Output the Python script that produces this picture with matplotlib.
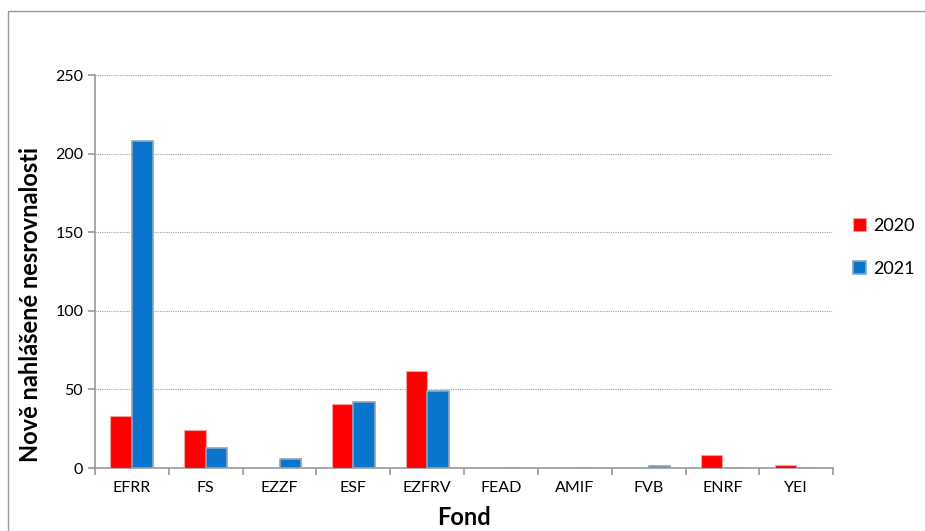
import numpy as np
import matplotlib.pyplot as plt
from matplotlib.patches import Rectangle

plt.rcParams['font.family'] = ['Lato', 'DejaVu Sans']

funds = ["EFRR", "FS", "EZZF", "ESF", "EZFRV", "FEAD", "AMIF", "FVB", "ENRF", "YEI"]
y2020 = [33, 24, 0, 41, 62, 0, 0, 0, 8, 2]
y2021 = [208, 13, 6, 42, 49, 0, 0, 1, 0, 0]

fig = plt.figure(figsize=(9.25, 5.31), dpi=100)
ax = fig.add_axes([0.1027, 0.1186, 0.798, 0.740])

x = np.arange(len(funds))
w = 0.29
ax.bar(x - w / 2, y2020, w, color="#FF0000", edgecolor="#F5A0A0", linewidth=0.8, label="2020", zorder=3)
ax.bar(x + w / 2, y2021, w, color="#0A75CC", edgecolor="#8FA3BC", linewidth=1.2, label="2021", zorder=3)

ax.set_xlim(-0.5, len(funds) - 0.5)
ax.set_ylim(0, 250)
ax.set_yticks(range(0, 251, 50))
ax.set_xticks(x)
ax.set_xticklabels(funds)
ax.set_xticks(np.arange(-0.5, len(funds)), minor=True)
ax.tick_params(axis="x", which="major", length=0, pad=9, labelsize=11.5)
ax.tick_params(axis="x", which="minor", length=5, color="#999999", width=1.2)
ax.tick_params(axis="y", length=5, color="#999999", width=1.2, labelsize=11.5)
ax.yaxis.grid(True, linestyle=(0, (1, 1)), color="#A0A0A0", linewidth=0.8, zorder=0)

for s in ["top", "right"]:
    ax.spines[s].set_visible(False)
for s in ["left", "bottom"]:
    ax.spines[s].set_color("#999999")
    ax.spines[s].set_linewidth(1.2)

ax.set_ylabel("Nově nahlášené nesrovnalosti", fontsize=17, fontweight="bold")
ax.yaxis.set_label_coords(-0.072, 0.415)
ax.set_xlabel("Fond", fontsize=17, fontweight="bold", labelpad=8)

fig.legend(loc="upper left", bbox_to_anchor=(0.905, 0.62), frameon=False,
           fontsize=13, labelspacing=1.5, handlelength=0.7, handleheight=0.7,
           handletextpad=0.4)

fig.patches.append(Rectangle((0.0087, -0.1), 1.1, 1.079, transform=fig.transFigure,
                             fill=False, edgecolor="#999999", linewidth=1.0))

fig.savefig("out.png", dpi=100)
